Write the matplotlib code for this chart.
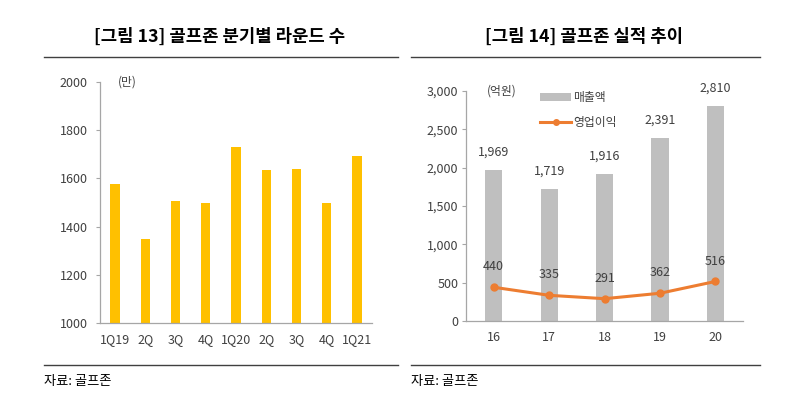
import matplotlib.pyplot as plt
from matplotlib.lines import Line2D
from matplotlib.patches import Patch

plt.rcParams['font.family'] = ['Noto Sans CJK KR', 'DejaVu Sans']

# left chart: quarterly rounds (만)
quarters = ['1Q19', '2Q', '3Q', '4Q', '1Q20', '2Q', '3Q', '4Q', '1Q21']
rounds = [1578, 1348, 1507, 1500, 1732, 1636, 1637, 1497, 1692]

# right chart: results (억원)
years = ['16', '17', '18', '19', '20']
sales = [1969, 1719, 1916, 2391, 2810]
op_profit = [440, 335, 291, 362, 516]

tick_color = '#404040'
spine_color = '#a6a6a6'
yellow = '#ffc000'
gray = '#bfbfbf'
orange = '#ed7d31'

fig = plt.figure(figsize=(8, 4.03), dpi=100)


def style_axis(ax, ypad):
    for s in ['top', 'right']:
        ax.spines[s].set_visible(False)
    for s in ['left', 'bottom']:
        ax.spines[s].set_color(spine_color)
        ax.spines[s].set_linewidth(0.9)
    ax.tick_params(axis='y', length=3, width=0.8, color=spine_color,
                   labelsize=9, labelcolor=tick_color, pad=ypad)
    ax.tick_params(axis='x', length=0, labelsize=9, labelcolor=tick_color, pad=7)


# ---- left panel ----
ax1 = fig.add_axes([0.125, 0.1985, 0.34, 0.598])
ax1.bar(range(len(quarters)), rounds, width=0.31, color=yellow, zorder=2)
ax1.set_xlim(-0.5, len(quarters) - 0.5)
ax1.set_ylim(1000, 2000)
ax1.set_yticks([1000, 1200, 1400, 1600, 1800, 2000])
ax1.set_xticks(range(len(quarters)))
ax1.set_xticklabels(quarters)
style_axis(ax1, 6)
ax1.text(0.065, 1.0, '(만)', transform=ax1.transAxes, fontsize=8.5,
         color=tick_color, va='center', ha='left')

fig.text(0.274, 0.91, '[그림 13] 골프존 분기별 라운드 수', ha='center', va='center',
         fontsize=12.8, fontweight='bold')
fig.add_artist(Line2D([0.055, 0.497], [0.858, 0.858], color='#404040', lw=1.0))
fig.add_artist(Line2D([0.055, 0.497], [0.094, 0.094], color='#404040', lw=1.0))
fig.text(0.055, 0.054, '자료: 골프존', ha='left', va='center', fontsize=9.5)

# ---- right panel ----
ax2 = fig.add_axes([0.5825, 0.2035, 0.3465, 0.5705])
x = range(len(years))
ax2.bar(x, sales, width=0.31, color=gray, zorder=2)
ax2.plot(x, op_profit, color=orange, lw=2.2, marker='o', markersize=5, zorder=3)
ax2.set_xlim(-0.5, len(years) - 0.5)
ax2.set_ylim(0, 3000)
ax2.set_yticks([0, 500, 1000, 1500, 2000, 2500, 3000])
ax2.set_yticklabels([f'{v:,}' for v in [0, 500, 1000, 1500, 2000, 2500, 3000]])
ax2.set_xticks(list(x))
ax2.set_xticklabels(years)
style_axis(ax2, 2.5)
ax2.text(0.075, 1.0, '(억원)', transform=ax2.transAxes, fontsize=8.5,
         color=tick_color, va='center', ha='left')

for i, v in enumerate(sales):
    ax2.annotate(f'{v:,}', (i, v), xytext=(0, 8), textcoords='offset points',
                 ha='center', va='bottom', fontsize=9, color=tick_color)
for i, v in enumerate(op_profit):
    ax2.annotate(f'{v:,}', (i, v), xytext=(0, 10), textcoords='offset points',
                 ha='center', va='bottom', fontsize=9, color=tick_color)

handles = [Patch(facecolor=gray, edgecolor='none'),
           Line2D([0], [0], color=orange, lw=2.2, marker='o', markersize=4)]
ax2.legend(handles, ['매출액', '영업이익'], loc='upper left',
           bbox_to_anchor=(0.23, 1.045), frameon=False, fontsize=8.5,
           handlelength=2.6, handleheight=0.6, labelspacing=1.0,
           handletextpad=0.2, labelcolor=tick_color)

fig.text(0.73, 0.91, '[그림 14] 골프존 실적 추이', ha='center', va='center',
         fontsize=12.8, fontweight='bold')
fig.add_artist(Line2D([0.514, 0.95], [0.858, 0.858], color='#404040', lw=1.0))
fig.add_artist(Line2D([0.514, 0.95], [0.094, 0.094], color='#404040', lw=1.0))
fig.text(0.514, 0.054, '자료: 골프존', ha='left', va='center', fontsize=9.5)

plt.savefig('out.png', dpi=100)
